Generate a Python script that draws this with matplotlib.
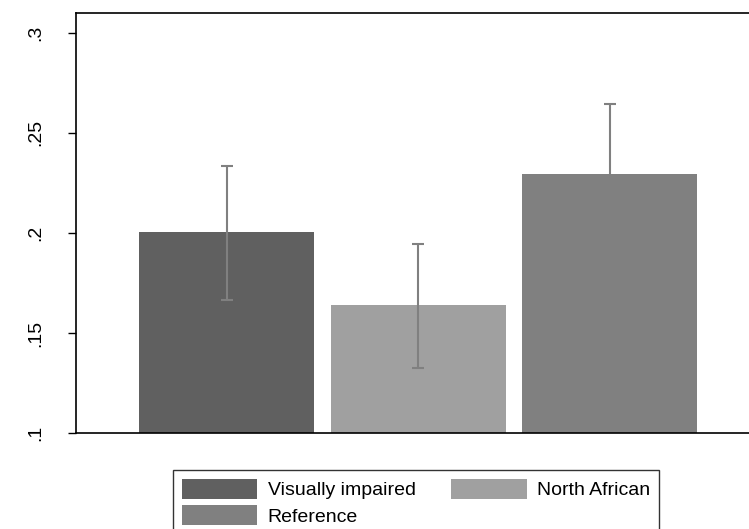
import matplotlib

matplotlib.use("Agg")
import matplotlib.pyplot as plt
from matplotlib.patches import Patch

plt.rcParams["font.family"] = ["Liberation Sans", "DejaVu Sans"]

groups = ["Visually impaired", "North African", "Reference"]
means = [0.2003, 0.1639, 0.2294]
ci_low = [0.1664, 0.1324, 0.1943]
ci_high = [0.2337, 0.1945, 0.2645]
colors = ["#606060", "#a0a0a0", "#808080"]
yticks = [0.1, 0.15, 0.2, 0.25, 0.3]
ytick_labels = [".1", ".15", ".2", ".25", ".3"]

W, H = 749, 529
fig = plt.figure(figsize=(W / 100, H / 100), dpi=100)
ax = fig.add_axes([76 / W, (H - 433) / H, (W - 76) / W, (433 - 13.3) / H])

x = list(range(len(groups)))
ax.bar(x, means, width=0.914, color=colors, zorder=2)
for xi, m, lo, hi in zip(x, means, ci_low, ci_high):
    ax.errorbar(xi, m, yerr=[[m - lo], [hi - m]], fmt="none", ecolor="#808080",
                elinewidth=1.5, capsize=4, capthick=1.5, zorder=3)

ax.set_xlim(-0.786, 2.728)
ax.set_ylim(0.1, 0.3098)
ax.set_yticks(yticks)
ax.set_yticklabels(ytick_labels, rotation=90, va="center", fontsize=14)
ax.tick_params(axis="y", length=6, width=1, pad=17)
ax.set_xticks([])
ax.spines["right"].set_visible(False)
for s in ["left", "top", "bottom"]:
    ax.spines[s].set_linewidth(1.2)

handles = [Patch(facecolor=colors[0], edgecolor="none"),
           Patch(facecolor=colors[2], edgecolor="none"),
           Patch(facecolor=colors[1], edgecolor="none")]
labels = [groups[0], groups[2], groups[1]]
leg = fig.legend(handles, labels, ncol=2, loc="upper left",
                 bbox_to_anchor=(173 / W, 1 - 470 / H), fontsize=14,
                 frameon=True, fancybox=False, edgecolor="black",
                 handlelength=3.86, handleheight=1.2, handletextpad=0.55,
                 columnspacing=1.85, borderpad=0.45, labelspacing=0.3,
                 borderaxespad=0)
leg.get_frame().set_linewidth(1.0)

fig.savefig("out.png", dpi=100)
